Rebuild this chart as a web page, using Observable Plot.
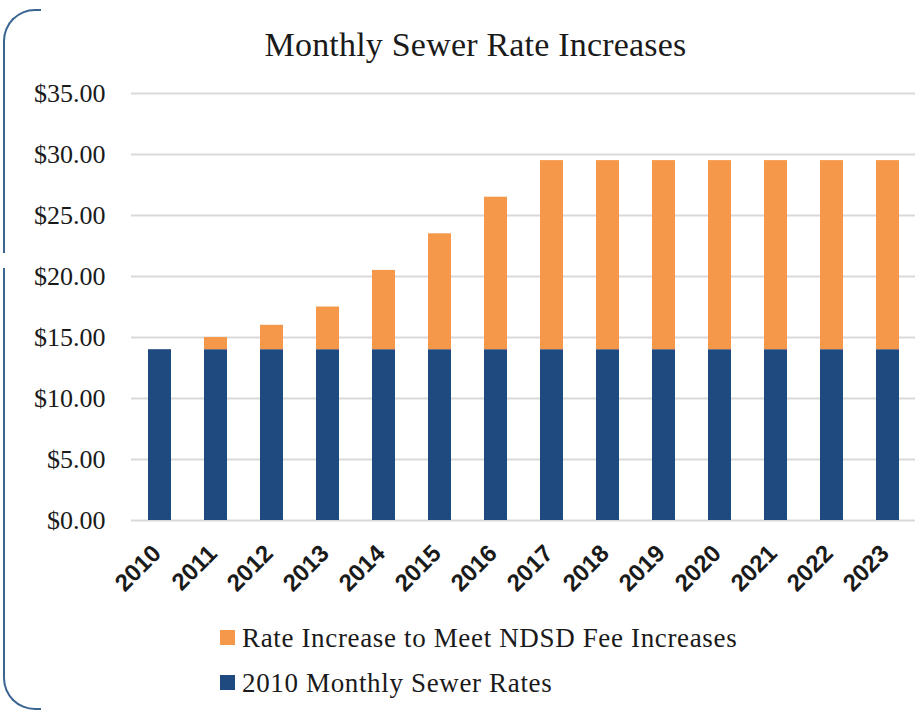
<!DOCTYPE html>
<html>
<head>
<meta charset="utf-8">
<script src="https://cdn.jsdelivr.net/npm/d3@7"></script>
<script src="https://cdn.jsdelivr.net/npm/@observablehq/plot@0.6"></script>
<style>
  html, body { margin: 0; padding: 0; background: #fff; }
  #wrap { position: relative; width: 921px; height: 713px; overflow: hidden; background: #fff; }
  #title { position: absolute; left: 30px; width: 891px; top: 28px; line-height: 34px; text-align: center;
           font-family: "Liberation Serif", serif; font-size: 34px; letter-spacing: 0.2px; color: #1a1a1a; }
  #chart { position: absolute; left: 0; top: 75px; }
  .brk { position: absolute; border-color: #3a6591; border-style: solid; border-width: 0; }
  .leg { position: absolute; left: 220px; font-family: "Liberation Serif", serif; font-size: 27px; color: #1a1a1a;
         line-height: 28px; letter-spacing: 0.65px; white-space: nowrap; }
  .leg .sw { display: inline-block; width: 15px; height: 15px; margin-right: 7px; vertical-align: 2px; }
</style>
</head>
<body>
<div id="wrap">
  <div class="brk" style="left:3px; top:9px; width:36px; height:242px; border-left-width:2.5px; border-top-width:2.5px; border-top-left-radius:32px;"></div>
  <div class="brk" style="left:3px; top:268px; width:36px; height:440px; border-left-width:2.5px; border-bottom-width:2.5px; border-bottom-left-radius:32px;"></div>
  <div id="title"></div>
  <div id="chart"></div>
  <div id="legend"></div>
</div>
<script>
const titleText = "Monthly Sewer Rate Increases";
const years = ["2010","2011","2012","2013","2014","2015","2016","2017","2018","2019","2020","2021","2022","2023"];
const baseRates = [14, 14, 14, 14, 14, 14, 14, 14, 14, 14, 14, 14, 14, 14];
const increases = [0, 1, 2, 3.5, 6.5, 9.5, 12.5, 15.5, 15.5, 15.5, 15.5, 15.5, 15.5, 15.5];
const seriesNames = ["2010 Monthly Sewer Rates", "Rate Increase to Meet NDSD Fee Increases"];
const seriesColors = ["#1f4a7f", "#f5984a"];
const yTicks = [0, 5, 10, 15, 20, 25, 30, 35];
const legendOrder = [1, 0];

document.getElementById("title").textContent = titleText;

const rows = years.flatMap((yr, i) => [
  {year: yr, series: seriesNames[0], value: baseRates[i]},
  {year: yr, series: seriesNames[1], value: increases[i]}
]);

const chart = Plot.plot({
  width: 921,
  height: 545,
  marginTop: 18,
  marginBottom: 100,
  marginLeft: 131,
  marginRight: 6,
  style: {background: "transparent", color: "#1a1a1a", overflow: "visible"},
  x: {domain: years, paddingInner: 0.59, paddingOuter: 0.295, label: null},
  y: {domain: [0, 35], label: null},
  color: {domain: seriesNames, range: seriesColors},
  marks: [
    Plot.ruleY(yTicks, {stroke: "#d9d9d9", strokeWidth: 2}),
    Plot.barY(rows, {x: "year", y: "value", fill: "series"}),
    Plot.axisY({ticks: yTicks, tickSize: 0, tickPadding: 26, tickFormat: d => "$" + d.toFixed(2),
                fontFamily: "Liberation Serif", fontSize: 26, letterSpacing: "1px", label: null}),
    Plot.axisX({tickSize: 0, tickPadding: 29, dx: -3, tickRotate: -45, fontFamily: "Liberation Sans",
                fontWeight: "bold", fontSize: 24, label: null})
  ]
});
document.getElementById("chart").appendChild(chart);

const legend = document.getElementById("legend");
legendOrder.forEach((k, j) => {
  const row = document.createElement("div");
  row.className = "leg";
  row.style.top = (624 + j * 45) + "px";
  const sw = document.createElement("span");
  sw.className = "sw";
  sw.style.background = seriesColors[k];
  row.appendChild(sw);
  row.appendChild(document.createTextNode(seriesNames[k]));
  legend.appendChild(row);
});
</script>
</body>
</html>
